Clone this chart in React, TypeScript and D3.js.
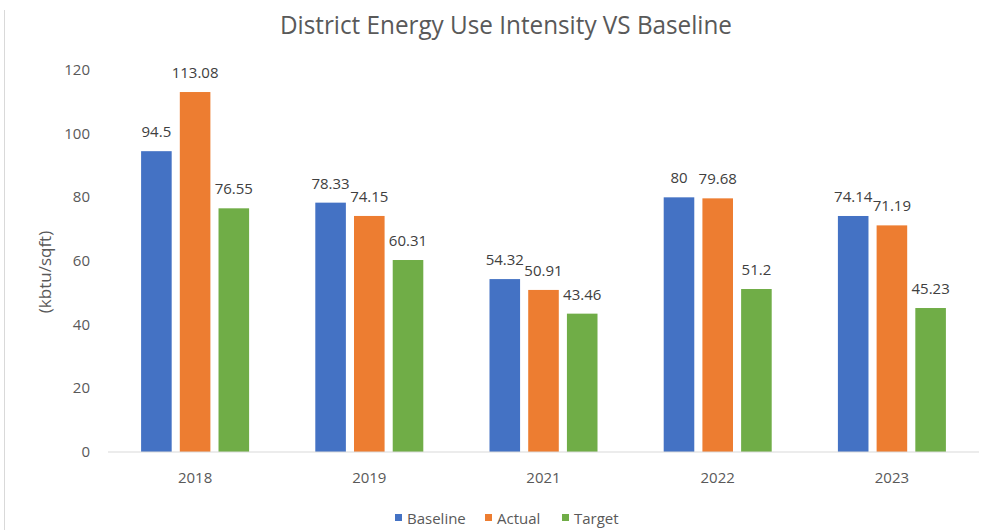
import React from "react";
import * as d3 from "d3";

const categories = ["2018", "2019", "2021", "2022", "2023"];
const seriesNames = ["Baseline", "Actual", "Target"];
const baseline = [94.5, 78.33, 54.32, 80, 74.14];
const actual = [113.08, 74.15, 50.91, 79.68, 71.19];
const target = [76.55, 60.31, 43.46, 51.2, 45.23];
const yTicks = [0, 20, 40, 60, 80, 100, 120];
const colors = ["#4472C4", "#ED7D31", "#70AD47"];

const W = 987;
const H = 530;
const FONT = "'Open Sans', 'Noto Sans', sans-serif";

export default function App() {
  const series = [baseline, actual, target];
  const x0 = d3.scaleBand<string>().domain(categories).range([108, 979]).padding(0);
  const bw = x0.bandwidth();
  const inner = d3
    .scaleBand<string>()
    .domain(seriesNames)
    .range([bw * 0.19, bw * 0.81])
    .paddingInner(0.21)
    .paddingOuter(0);
  const y = d3.scaleLinear().domain([0, 120]).range([452, 70]);

  const legendItems = [
    { name: "Baseline", x: 395 },
    { name: "Actual", x: 485 },
    { name: "Target", x: 562 },
  ];

  return (
    <svg
      width={W}
      height={H}
      style={{ position: "absolute", left: 0, top: 0, background: "#fff" }}
      fontFamily={FONT}
    >
      <rect x={0} y={0} width={W} height={H} fill="#fff" />
      <line x1={4.5} x2={4.5} y1={10} y2={H} stroke="#D9D9D9" strokeWidth={1} />
      <text
        x={280}
        y={34}
        fontSize={25}
        fill="#595959"
        textLength={452}
        lengthAdjust="spacingAndGlyphs"
      >
        District Energy Use Intensity VS Baseline
      </text>
      {yTicks.map((t) => (
        <text key={t} x={90} y={y(t) + 5} textAnchor="end" fontSize={15} fill="#595959">
          {t}
        </text>
      ))}
      <text
        transform={`translate(51, 272) rotate(-90)`}
        textAnchor="middle"
        fontSize={17}
        fill="#595959"
      >
        (kbtu/sqft)
      </text>
      {categories.map((c, ci) => (
        <g key={c} transform={`translate(${x0(c)},0)`}>
          {seriesNames.map((s, si) => {
            const v = series[si][ci];
            const bx = inner(s)!;
            return (
              <g key={s}>
                <rect
                  x={bx}
                  y={y(v)}
                  width={inner.bandwidth()}
                  height={y(0) - y(v)}
                  fill={colors[si]}
                />
                <text
                  x={bx + inner.bandwidth() / 2}
                  y={y(v) - 14}
                  textAnchor="middle"
                  fontSize={15}
                  fill="#404040"
                >
                  {v}
                </text>
              </g>
            );
          })}
          <text x={bw / 2} y={483} textAnchor="middle" fontSize={15} fill="#595959">
            {c}
          </text>
        </g>
      ))}
      <line x1={108} x2={979} y1={452} y2={452} stroke="#D9D9D9" strokeWidth={1} />
      {legendItems.map((l, i) => (
        <g key={l.name}>
          <rect x={l.x} y={514} width={7} height={7} fill={colors[i]} />
          <text x={l.x + 12} y={524} fontSize={15} fill="#595959">
            {l.name}
          </text>
        </g>
      ))}
    </svg>
  );
}
